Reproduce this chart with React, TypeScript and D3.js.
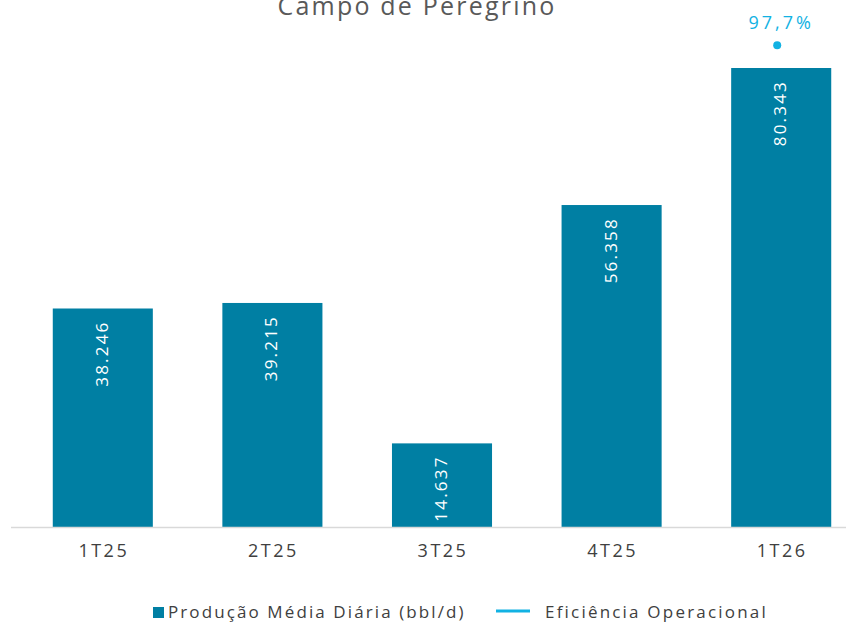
import React, { useRef, useEffect } from "react";
import { select, scaleBand, scaleLinear, axisBottom } from "d3";

const categories = ["1T25", "2T25", "3T25", "4T25", "1T26"];
const production = [38246, 39215, 14637, 56358, 80343];
// efficiency only reported for the last quarter
const efficiency = [null, null, null, null, 97.7];
const title = "Campo de Peregrino";
const legendLabels = ["Produção Média Diária (bbl/d)", "Eficiência Operacional"];

const W = 846;
const H = 622;
const barColor = "#007fa3";
const dotColor = "#12b2e3";
const font = "'Open Sans', 'DejaVu Sans', sans-serif";

const fmt = (v: number) => v.toLocaleString("de-DE");

function App() {
  const svgRef = useRef<SVGSVGElement>(null);

  useEffect(() => {
    const svg = select(svgRef.current);
    svg.selectAll("*").remove();

    const baseY = 527;
    const x = scaleBand().domain(categories).range([18, 866]).paddingInner(0.41).paddingOuter(0.205);
    const y = scaleLinear().domain([0, 80343]).range([baseY, 68]);
    const y2 = scaleLinear().domain([0, 100]).range([baseY, 34]);

    // title (partly above the frame, as in the source)
    svg.append("text")
      .attr("x", 417).attr("y", 15)
      .attr("text-anchor", "middle")
      .attr("font-family", font).attr("font-size", 25)
      .attr("letter-spacing", 2.2)
      .attr("fill", "#595959")
      .text(title);

    // bars
    svg.selectAll(".bar")
      .data(production)
      .join("rect")
      .attr("class", "bar")
      .attr("x", (d, i) => x(categories[i])!)
      .attr("y", d => y(d))
      .attr("width", x.bandwidth())
      .attr("height", d => baseY - y(d))
      .attr("fill", barColor);

    // bar labels, rotated
    svg.selectAll(".blabel")
      .data(production)
      .join("text")
      .attr("class", "blabel")
      .attr("transform", (d, i) => `translate(${x(categories[i])! + x.bandwidth() / 2 + 5},${y(d) + 12}) rotate(-90)`)
      .attr("text-anchor", "end")
      .attr("font-family", font).attr("font-size", 17)
      .attr("letter-spacing", 2.2)
      .attr("fill", "#ffffff")
      .text(d => fmt(d));

    // x axis
    const xaxis = axisBottom(x).tickSize(0).tickPadding(17);
    const gx = svg.append("g").attr("transform", `translate(0,${baseY})`).call(xaxis);
    gx.select(".domain").remove();
    gx.selectAll("text")
      .attr("font-family", font).attr("font-size", 18)
      .attr("letter-spacing", 2.5)
      .attr("dx", 1)
      .attr("fill", "#404040");
    svg.append("line")
      .attr("x1", 11).attr("x2", W)
      .attr("y1", baseY + 0.5).attr("y2", baseY + 0.5)
      .attr("stroke", "#d9d9d9").attr("stroke-width", 1.5);

    // efficiency points
    const pts = efficiency.map((v, i) => ({ v, c: categories[i] })).filter(p => p.v != null) as { v: number; c: string }[];
    svg.selectAll(".dot")
      .data(pts)
      .join("circle")
      .attr("class", "dot")
      .attr("cx", d => x(d.c)! + x.bandwidth() / 2 - 4)
      .attr("cy", d => y2(d.v))
      .attr("r", 4)
      .attr("fill", dotColor);
    svg.selectAll(".dlabel")
      .data(pts)
      .join("text")
      .attr("class", "dlabel")
      .attr("x", d => x(d.c)! + x.bandwidth() / 2)
      .attr("y", d => y2(d.v) - 16)
      .attr("text-anchor", "middle")
      .attr("font-family", font).attr("font-size", 18)
      .attr("letter-spacing", 3)
      .attr("fill", dotColor)
      .text(d => d.v.toFixed(1).replace(".", ",") + "%");

    // legend
    const ly = 612;
    svg.append("rect").attr("x", 153).attr("y", ly - 5).attr("width", 11).attr("height", 11).attr("fill", barColor);
    svg.append("text").attr("x", 168).attr("y", ly + 6)
      .attr("font-family", font).attr("font-size", 17).attr("letter-spacing", 2.1).attr("fill", "#404040")
      .text(legendLabels[0]);
    svg.append("line").attr("x1", 496).attr("x2", 530).attr("y1", ly - 1).attr("y2", ly - 1)
      .attr("stroke", dotColor).attr("stroke-width", 3);
    svg.append("text").attr("x", 545).attr("y", ly + 6)
      .attr("font-family", font).attr("font-size", 17).attr("letter-spacing", 2.2).attr("fill", "#404040")
      .text(legendLabels[1]);
  }, []);

  return (
    <svg ref={svgRef} width={W} height={H} style={{ position: "absolute", left: 0, top: 0, background: "#fff" }} />
  );
}

export default App;
